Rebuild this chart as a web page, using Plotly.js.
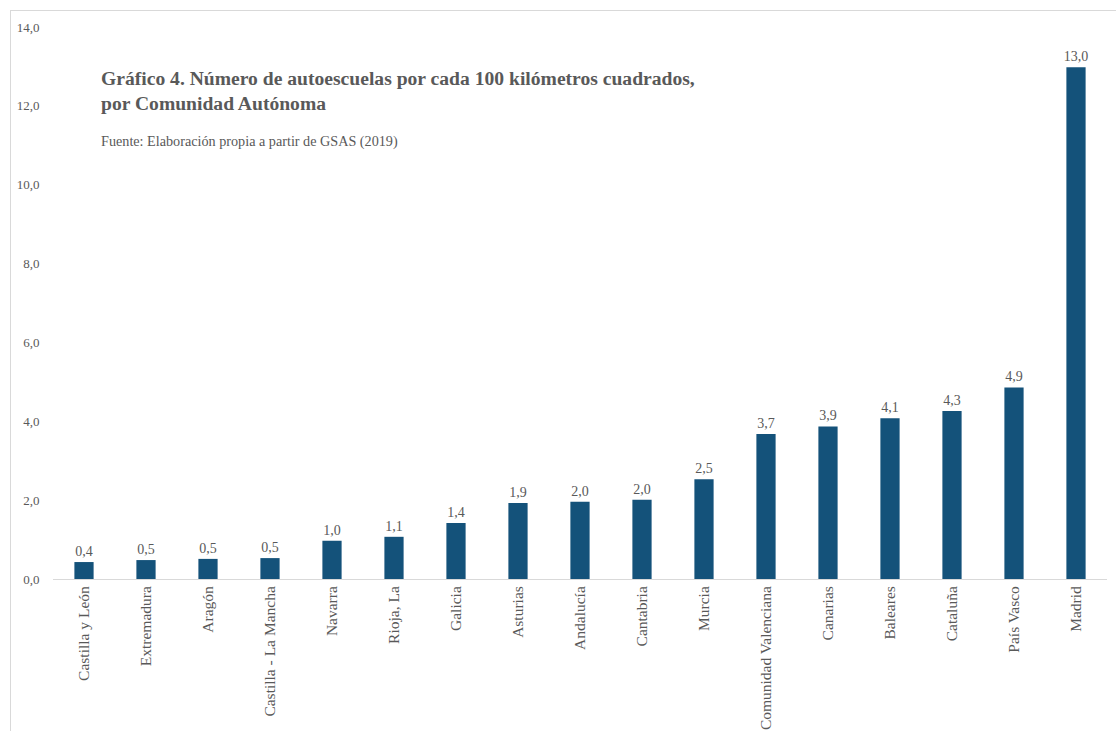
<!DOCTYPE html>
<html>
<head>
<meta charset="utf-8">
<script src="https://cdn.plot.ly/plotly-3.0.1.min.js"></script>
<style>
  html, body { margin: 0; padding: 0; background: #ffffff; }
  #chart { position: absolute; left: 10px; top: 10px; width: 1106px; height: 725px;
           border-left: 1px solid #d9d9d9; border-top: 1px solid #d9d9d9; }
</style>
</head>
<body>
<div id="chart"></div>
<script>
// Data
const regions = [
  "Castilla y León", "Extremadura", "Aragón", "Castilla - La Mancha", "Navarra",
  "Rioja, La", "Galicia", "Asturias", "Andalucía", "Cantabria", "Murcia",
  "Comunidad Valenciana", "Canarias", "Baleares", "Cataluña", "País Vasco", "Madrid"
];
const autoescuelasPor100km2 = [
  0.43, 0.48, 0.51, 0.53, 0.97,
  1.07, 1.42, 1.93, 1.96, 2.01, 2.53,
  3.68, 3.87, 4.08, 4.26, 4.86, 12.98
];
const yTickValues = [0, 2, 4, 6, 8, 10, 12, 14];

const FONT = "'Liberation Serif', 'DejaVu Serif', serif";
const GRAY = "#595959";

const trace = {
  type: "bar",
  x: regions,
  y: autoescuelasPor100km2,
  marker: { color: "#14527a" },
  texttemplate: "%{y:.1f}",
  textposition: "outside",
  constraintext: "none",
  cliponaxis: false,
  textfont: { family: FONT, size: 14, color: GRAY },
  hoverinfo: "x+y"
};

const layout = {
  width: 1106,
  height: 725,
  margin: { l: 42, r: 10, t: 16, b: 157 },
  paper_bgcolor: "#ffffff",
  plot_bgcolor: "#ffffff",
  separators: ",.",
  bargap: 0.69,
  showlegend: false,
  font: { family: FONT, color: GRAY },
  xaxis: {
    type: "category",
    tickangle: -90,
    showline: true,
    linecolor: "#d9d9d9",
    linewidth: 1,
    showgrid: false,
    ticks: "",
    tickfont: { family: FONT, size: 15.5, color: GRAY },
    automargin: false
  },
  yaxis: {
    range: [0, 14],
    tickvals: yTickValues,
    tickformat: ".1f",
    showgrid: false,
    zeroline: false,
    showline: false,
    ticks: "outside",
    ticklen: 10,
    tickcolor: "rgba(0,0,0,0)",
    tickfont: { family: FONT, size: 13, color: GRAY },
    automargin: false
  },
  annotations: [
    {
      xref: "paper", yref: "paper",
      x: 0.0435, y: 0.93,
      xanchor: "left", yanchor: "top",
      align: "left",
      showarrow: false,
      text: "<b>Gráfico 4. Número de autoescuelas por cada 100 kilómetros cuadrados,<br>por Comunidad Autónoma</b>",
      font: { family: FONT, size: 19.6, color: GRAY }
    },
    {
      xref: "paper", yref: "paper",
      x: 0.0435, y: 0.812,
      xanchor: "left", yanchor: "top",
      align: "left",
      showarrow: false,
      text: "Fuente: Elaboración propia a partir de GSAS (2019)",
      font: { family: FONT, size: 14.2, color: GRAY }
    }
  ]
};

Plotly.newPlot("chart", [trace], layout, { displayModeBar: false, responsive: false });
</script>
</body>
</html>
